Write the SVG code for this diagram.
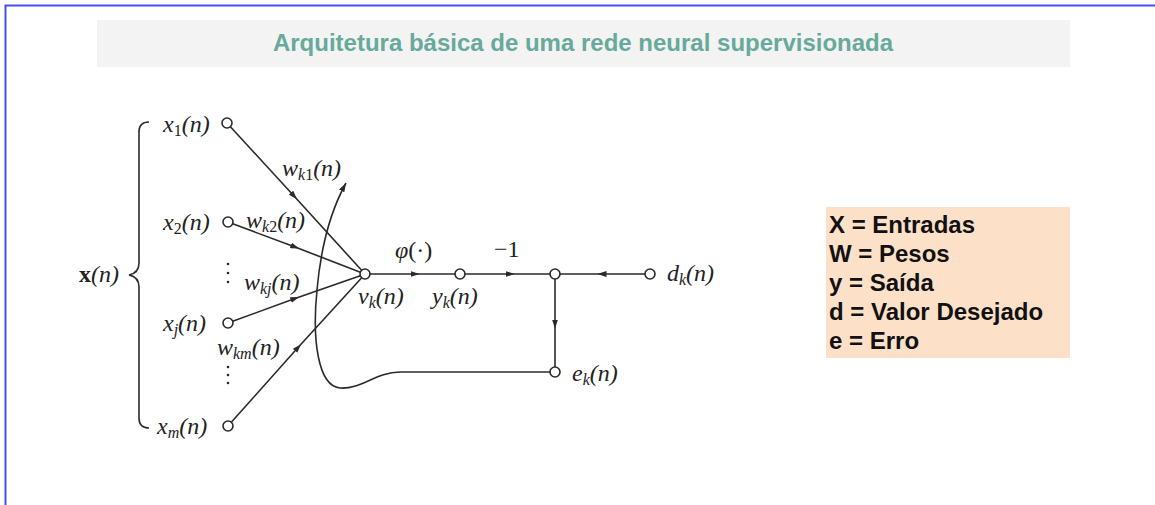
<svg xmlns="http://www.w3.org/2000/svg" width="1155" height="505" viewBox="0 0 1155 505">
<defs>
<style>
.t{font-family:"Liberation Serif","Times New Roman",serif;font-style:italic;font-size:24px;fill:#222}
.s{font-size:16px}
.up{font-style:normal}
.ln{fill:none;stroke:#2a2a2a;stroke-width:1.6}
.nd{fill:#fff;stroke:#2a2a2a;stroke-width:1.6}
.lg{font-family:"Liberation Sans",Arial,sans-serif;font-weight:bold;font-size:24px;fill:#111}
</style>
<marker id="am" viewBox="0 0 9 6" refX="4.5" refY="3" markerWidth="9" markerHeight="6" markerUnits="userSpaceOnUse" orient="auto"><path d="M0,0 L9,3 L0,6 z" fill="#2a2a2a"/></marker>
<marker id="ae" viewBox="0 0 9 6" refX="9" refY="3" markerWidth="9" markerHeight="6" markerUnits="userSpaceOnUse" orient="auto"><path d="M0,0 L9,3 L0,6 z" fill="#2a2a2a"/></marker>
</defs>
<rect width="1155" height="505" fill="#fff"/>
<rect x="5.5" y="5.5" width="1200" height="600" fill="none" stroke="#4a4af5" stroke-width="2"/>
<g id="title">
<rect x="97" y="20" width="973" height="47" fill="#f3f3f3"/>
<text x="583" y="51" text-anchor="middle" font-family="Liberation Sans, Arial, sans-serif" font-weight="bold" font-size="24" fill="#67a99a">Arquitetura básica de uma rede neural supervisionada</text>
</g>
<g id="legend">
<rect x="826" y="207" width="244" height="151" fill="#fde0c8"/>
<text class="lg" x="829" y="233">X = Entradas</text>
<text class="lg" x="829" y="262">W = Pesos</text>
<text class="lg" x="829" y="291">y = Saída</text>
<text class="lg" x="829" y="320">d = Valor Desejado</text>
<text class="lg" x="829" y="349">e = Erro</text>
</g>
<g id="connectors">
<path class="ln" d="M149 122 Q139 122 139 132 L139 263 Q139 273 129 275 Q139 277 139 287 L139 418 Q139 428 149 428"/>
<path class="ln" marker-mid="url(#am)" d="M230.4 126.7 L294 196 L361.6 270.3"/>
<path class="ln" marker-mid="url(#am)" d="M232.7 223.8 L295 247 L360.3 272.2"/>
<path class="ln" marker-mid="url(#am)" d="M232.7 321.3 L295 298.5 L360.3 275.7"/>
<path class="ln" marker-mid="url(#am)" d="M231.3 422.3 L298 347.5 L361.7 277.7"/>
<path class="ln" marker-mid="url(#am)" d="M370 274 L415 274 L455 274"/>
<path class="ln" marker-mid="url(#am)" d="M465 274 L510 274 L550 274"/>
<path class="ln" marker-mid="url(#am)" d="M645 274 L602 274 L560 274"/>
<path class="ln" marker-mid="url(#am)" d="M555 279 L555 324 L555 367"/>
<path class="ln" marker-end="url(#ae)" d="M550 372 L400 372 C376 372 360 390 340 388 C318 386 312 340 317 290 C321 245 330 212 346 183"/>
<g fill="#2a2a2a">
<circle cx="228" cy="264" r="1.3"/><circle cx="228" cy="273" r="1.3"/><circle cx="228" cy="282" r="1.3"/>
<circle cx="228" cy="367" r="1.3"/><circle cx="228" cy="375" r="1.3"/><circle cx="228" cy="383" r="1.3"/>
</g>
</g>
<g id="x1"><circle class="nd" cx="227" cy="123" r="5"/><text class="t" x="163" y="132">x<tspan class="s up" dy="4">1</tspan><tspan dy="-4">(n)</tspan></text></g>
<g id="x2"><circle class="nd" cx="228" cy="222" r="5"/><text class="t" x="163" y="230">x<tspan class="s up" dy="4">2</tspan><tspan dy="-4">(n)</tspan></text></g>
<g id="xj"><circle class="nd" cx="228" cy="323" r="5"/><text class="t" x="163" y="331">x<tspan class="s" dy="4">j</tspan><tspan dy="-4">(n)</tspan></text></g>
<g id="xm"><circle class="nd" cx="228" cy="426" r="5"/><text class="t" x="157" y="434">x<tspan class="s" dy="4">m</tspan><tspan dy="-4">(n)</tspan></text></g>
<g id="xvec"><text class="t" x="79" y="282"><tspan class="up" font-weight="bold">x</tspan>(n)</text></g>
<g id="weights">
<text class="t" x="282" y="176">w<tspan class="s" dy="4">k</tspan><tspan class="s up">1</tspan><tspan dy="-4">(n)</tspan></text>
<text class="t" x="246" y="228">w<tspan class="s" dy="4">k</tspan><tspan class="s up">2</tspan><tspan dy="-4">(n)</tspan></text>
<text class="t" x="244" y="290">w<tspan class="s" dy="4">kj</tspan><tspan dy="-4">(n)</tspan></text>
<text class="t" x="217" y="355">w<tspan class="s" dy="4">km</tspan><tspan dy="-4">(n)</tspan></text>
</g>
<g id="vk"><circle class="nd" cx="365" cy="274" r="5"/><text class="t" x="358" y="304">v<tspan class="s" dy="4">k</tspan><tspan dy="-4">(n)</tspan></text></g>
<g id="phi"><text class="t" x="395" y="258">φ<tspan class="up">(·)</tspan></text></g>
<g id="yk"><circle class="nd" cx="460" cy="274" r="5"/><text class="t" x="432" y="304">y<tspan class="s" dy="4">k</tspan><tspan dy="-4">(n)</tspan></text></g>
<g id="minus1"><text class="t up" x="494" y="257">−1</text></g>
<g id="sum"><circle class="nd" cx="555" cy="274" r="5"/></g>
<g id="dk"><circle class="nd" cx="650" cy="274" r="5"/><text class="t" x="667" y="281">d<tspan class="s" dy="4">k</tspan><tspan dy="-4">(n)</tspan></text></g>
<g id="ek"><circle class="nd" cx="555" cy="372" r="5"/><text class="t" x="572" y="381">e<tspan class="s" dy="4">k</tspan><tspan dy="-4">(n)</tspan></text></g>
</svg>
